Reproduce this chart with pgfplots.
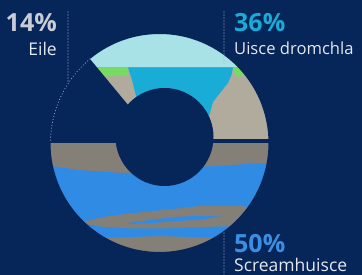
\documentclass[border=0pt]{standalone}
\usepackage{pgfplots}
\pgfplotsset{compat=1.18}
\usepackage{fontspec}
\setmainfont{Open Sans}
\definecolor{bg}{HTML}{062559}
\definecolor{lcyan}{HTML}{A8E2E6}
\definecolor{wcyan}{HTML}{18ACD6}
\definecolor{grn}{HTML}{77DB63}
\definecolor{beige}{HTML}{B1AB9D}
\definecolor{gry}{HTML}{858077}
\definecolor{blu}{HTML}{2F8BE3}
\definecolor{dotc}{HTML}{9FB3D0}
\definecolor{txtc}{HTML}{E4E8EF}
\definecolor{greyt}{HTML}{C8CCD6}
\definecolor{bluet}{HTML}{3A8FE2}
% shares (percent)
\def\pUisce{36}
\def\pEile{14}
\def\pScream{50}
\pgfmathsetmacro{\aA}{3.6*\pUisce}
\pgfmathsetmacro{\aB}{\aA+3.6*\pEile}
\begin{document}
\begin{tikzpicture}
\begin{axis}[scale only axis, width=362pt, height=275pt,
  xmin=0, xmax=362, ymin=-275, ymax=0, hide axis, clip=false]
\fill[bg] (axis cs:0,-275) rectangle (axis cs:362,0);
% --- Uisce dromchla segment (top)
\addplot[fill=beige, draw=none] coordinates {(45,-30) (275,-30) (275,-139.3) (45,-139.3)} -- cycle;
\addplot[fill=lcyan, draw=none] coordinates {(45,-30) (275,-30) (275,-67.5) (45,-67.5)} -- cycle;
\addplot[fill=grn, draw=none] coordinates {(85,-67.3) (128.5,-67.3) (128,-75.7) (100,-76.7) (85,-77)} -- cycle;
\addplot[fill=grn, draw=none] coordinates {(232.5,-67.3) (260,-67.3) (260,-70) (237.5,-77) (234,-72)} -- cycle;
\addplot[fill=wcyan, draw=none] coordinates {(128,-67.3) (233,-67.3) (231.5,-75) (228,-83) (220,-93) (213,-102) (210,-113) (206,-125) (165,-125) (137,-110) (136,-96) (134.5,-90) (132,-80)} -- cycle;
% --- Screamhuisce segment (bottom)
\addplot[fill=gry, draw=none] coordinates {(45,-142.7) (275,-142.7) (275,-260) (45,-260)} -- cycle;
\addplot[fill=blu, draw=none] coordinates {(45,-165) (52,-166) (78,-170) (122,-173) (160,-172) (198,-167) (265,-163) (275,-162)
  (275,-240) (222,-238) (160,-236) (100,-238) (45,-240)} -- cycle;
\addplot[fill=gry, draw=none] coordinates {(80,-223) (100,-217.5) (130,-213.5) (165,-210) (205,-205.5) (238,-206) (256,-207.5) (275,-208)
  (275,-226) (240,-226) (200,-227) (165,-228.5) (130,-228.5) (100,-226.5)} -- cycle;
\addplot[fill=blu, draw=none] coordinates {(128,-223) (150,-220) (175,-217) (200,-215.8) (222,-216.5) (200,-219.5) (175,-221.3) (150,-223.3) (128,-224)} -- cycle;
% --- masks: outside, hole, gap, empty slice
\fill[bg, even odd rule] (axis cs:-20,20) rectangle (axis cs:382,-295) (axis cs:159.5,-143) circle[radius=109pt];
\fill[bg] (axis cs:164.5,-137) circle[radius=49pt];
\fill[bg] (axis cs:40,-139.3) rectangle (axis cs:280,-142.7);
\fill[bg] (axis cs:159.5,-143) -- ([shift={(\aA:135pt)}]axis cs:159.5,-143) -- ([shift={(155:135pt)}]axis cs:159.5,-143) -- ([shift={(\aB:135pt)}]axis cs:159.5,-143) -- cycle;
% --- dotted guides
\draw[dotc, line width=1.1pt, line cap=round, dash pattern=on 0pt off 3pt]
  ([shift={(\aA:109pt)}]axis cs:159.5,-143) arc[start angle=\aA, end angle=\aB, radius=109pt];
\draw[dotc, line width=1.1pt, line cap=round, dash pattern=on 0pt off 3pt] (axis cs:68,-12) -- (axis cs:68,-82);
\draw[dotc, line width=1.1pt, line cap=round, dash pattern=on 0pt off 3pt] (axis cs:224,-12) -- (axis cs:224,-63);
\draw[dotc, line width=1.1pt, line cap=round, dash pattern=on 0pt off 3pt] (axis cs:224,-233) -- (axis cs:224,-276);
% --- labels
\node[anchor=base east, inner sep=0pt, text=greyt, font=\fontsize{25}{28}\selectfont\bfseries] at (axis cs:57,-32) {\pEile\%};
\node[anchor=base east, inner sep=0pt, text=txtc, font=\fontsize{17.5}{20}\selectfont] at (axis cs:57,-56) {Eile};
\node[anchor=base west, inner sep=0pt, text=wcyan, font=\fontsize{25}{28}\selectfont\bfseries] at (axis cs:234,-32) {\pUisce\%};
\node[anchor=base west, inner sep=0pt, text=txtc, font=\fontsize{16.6}{20}\selectfont] at (axis cs:234,-55) {Uisce dromchla};
\node[anchor=base west, inner sep=0pt, text=bluet, font=\fontsize{25}{28}\selectfont\bfseries] at (axis cs:234,-253) {\pScream\%};
\node[anchor=base west, inner sep=0pt, text=txtc, font=\fontsize{17.5}{20}\selectfont] at (axis cs:234,-271.5) {Screamhuisce};
\coordinate (ll) at (axis cs:0,-275);
\coordinate (ur) at (axis cs:362,0);
\end{axis}
\pgfresetboundingbox
\path (ll) rectangle (ur);
\end{tikzpicture}
\end{document}
